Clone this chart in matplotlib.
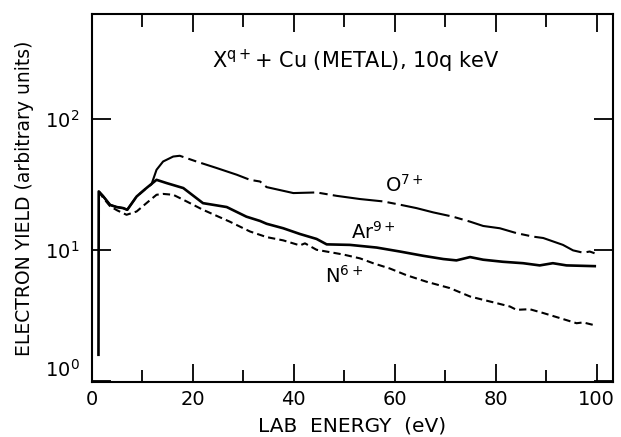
import matplotlib
matplotlib.use("Agg")
import matplotlib.pyplot as plt
from matplotlib.ticker import FixedLocator, MultipleLocator, NullLocator

plt.rcParams["font.family"] = ["DejaVu Sans"]
plt.rcParams["mathtext.fontset"] = "dejavusans"

# Ar9+ (solid) — includes the sharp onset near 1 eV
ar_energy = [1.3, 1.35, 2.2, 3.6, 4.9, 6.2, 7.0, 8.85, 10.8, 12.8, 14.8, 18.1,
             22.0, 26.7, 30.6, 33.3, 34.6, 37.9, 41.2, 44.5, 46.5, 51.1, 56.4,
             61.0, 65.6, 69.6, 72.2, 74.9, 77.5, 81.4, 85.4, 88.7, 91.3, 94.0, 99.6]
ar_yield = [1.58, 27.9, 25.7, 22.0, 21.2, 20.8, 20.2, 25.5, 29.6, 34.2, 32.3, 29.6,
            22.7, 21.2, 17.9, 16.6, 15.8, 14.6, 13.2, 12.1, 11.0, 10.9, 10.4,
            9.7, 9.0, 8.5, 8.3, 8.8, 8.4, 8.1, 7.9, 7.6, 7.9, 7.6, 7.5]

# O7+ (dash-dot) — follows Ar9+ at low energy, then separates
o_energy = [1.35, 2.2, 3.6, 4.9, 6.2, 7.0, 8.85, 10.8, 11.8, 12.8, 14.1, 16.1,
            17.4, 20.7, 24.7, 28.7, 31.3, 33.3, 34.6, 39.9, 44.5, 48.5, 53.1,
            57.7, 61.0, 64.3, 67.6, 71.5, 74.9, 77.5, 80.8, 84.1, 87.4, 89.4,
            93.3, 95.3, 97.3, 98.6, 100.3]
o_yield = [27.9, 25.7, 22.0, 21.2, 20.8, 20.2, 25.5, 29.6, 31.6, 40.8, 47.2, 51.5,
           52.2, 47.2, 42.1, 37.4, 34.2, 33.2, 30.1, 27.1, 27.4, 25.8, 24.4,
           23.4, 22.1, 20.8, 19.3, 17.9, 16.4, 15.2, 14.6, 13.4, 12.6, 12.3,
           10.9, 9.9, 9.5, 9.7, 9.2]

# N6+ (dashed)
n_energy = [1.35, 2.2, 3.6, 5.0, 6.86, 8.85, 10.8, 12.8, 14.1, 16.1, 18.1, 22.0,
            27.3, 31.3, 33.3, 34.6, 37.9, 41.2, 42.2, 44.5, 49.8, 53.1, 55.7,
            59.0, 62.3, 66.3, 70.9, 74.9, 77.5, 80.1, 82.8, 84.1, 86.7, 89.4,
            92.7, 96.0, 97.3, 99.3]
n_yield = [27.9, 25.0, 21.5, 20.0, 18.5, 19.6, 22.7, 26.3, 26.7, 26.3, 24.1, 20.2,
           16.4, 13.8, 13.0, 12.5, 11.8, 10.8, 11.2, 10.0, 9.2, 8.6, 7.9,
           7.2, 6.4, 5.7, 5.1, 4.4, 4.15, 3.92, 3.69, 3.48, 3.52, 3.29,
           3.01, 2.75, 2.79, 2.67]

x_ticks = [0, 20, 40, 60, 80, 100]
y_ticks = [1, 10, 100]
y_tick_labels = [r"$\mathregular{10^{0}}$", r"$\mathregular{10^{1}}$", r"$\mathregular{10^{2}}$"]

fig = plt.figure(figsize=(6.21, 4.37), dpi=100)
ax = fig.add_axes([0.148, 0.126, 0.839, 0.842])

ax.plot(o_energy, o_yield, color="black", lw=1.5, linestyle=(0, (24, 2.5, 4, 2.5)))
ax.plot(n_energy, n_yield, color="black", lw=1.5, linestyle=(0, (3.5, 2)))
ax.plot(ar_energy, ar_yield, color="black", lw=1.9, linestyle="-")

ax.set_yscale("log")
ax.set_xlim(0, 103.2)
ax.set_ylim(0.98, 631)

ax.xaxis.set_major_locator(FixedLocator(x_ticks))
ax.xaxis.set_minor_locator(MultipleLocator(10))
ax.yaxis.set_major_locator(FixedLocator(y_ticks))
ax.yaxis.set_minor_locator(NullLocator())
ax.set_yticklabels(y_tick_labels)

ax.tick_params(axis="x", which="major", direction="in", top=True, length=13,
               width=1.3, labelsize=14, pad=6)
ax.tick_params(axis="x", which="minor", direction="in", top=True, length=9, width=1.3)
ax.tick_params(axis="y", which="major", direction="in", right=True, length=14,
               width=1.3, labelsize=14, pad=9)
for spine in ax.spines.values():
    spine.set_linewidth(1.5)

# lift the lowest decade label off the corner
ax.get_yticklabels()[0].set_verticalalignment("bottom")

ax.set_xlabel("LAB  ENERGY  (eV)", fontsize=14.5, labelpad=5)
ax.set_ylabel("ELECTRON YIELD (arbitrary units)", fontsize=13.5, labelpad=8)

ax.text(23.8, 245, r"X$^{\mathregular{q+}}$+ Cu (METAL), 10q keV", fontsize=15,
        ha="left", va="baseline")
ax.text(58, 27.7, r"O$^{\mathregular{7+}}$", fontsize=14, ha="left", va="baseline")
ax.text(51.4, 12.1, r"Ar$^{\mathregular{9+}}$", fontsize=14, ha="left", va="baseline")
ax.text(46.1, 5.57, r"N$^{\mathregular{6+}}$", fontsize=14, ha="left", va="baseline")

fig.savefig("out.png", dpi=100)
